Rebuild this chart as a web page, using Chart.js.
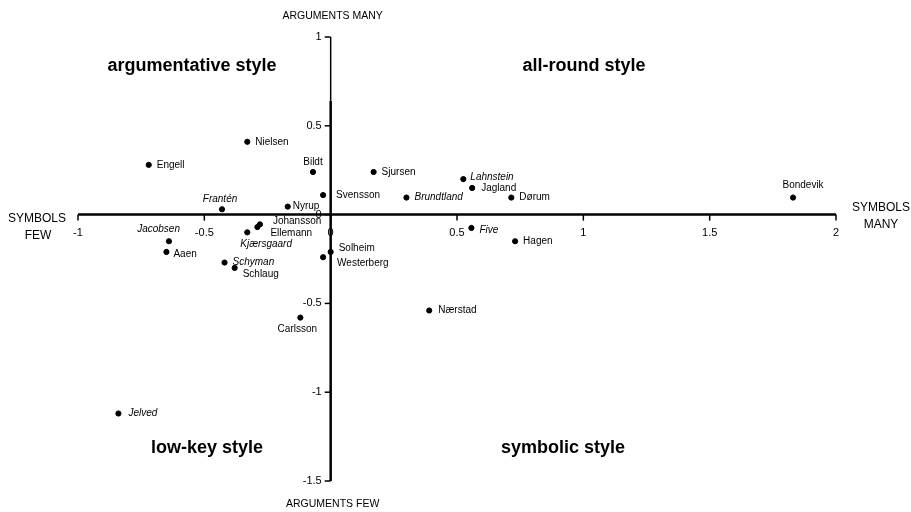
<!DOCTYPE html>
<html>
<head>
<meta charset="utf-8">
<script src="https://cdn.jsdelivr.net/npm/chart.js@4.4.1/dist/chart.umd.min.js"></script>
<style>
  html, body { margin: 0; padding: 0; background: #fff; }
  #wrap { width: 911px; height: 512px; }
</style>
</head>
<body>
<div id="wrap"><canvas id="styleChart" width="911" height="512"></canvas></div>
<script>
/* ── Data ─────────────────────────────────────────────────────────────── */
const names = ['Engell', 'Nielsen', 'Bildt', 'Svensson', 'Nyrup', 'Frantén',
  'Johansson', 'Ellemann', 'Kjærsgaard', 'Jacobsen', 'Aaen', 'Schyman',
  'Schlaug', 'Solheim', 'Westerberg', 'Carlsson', 'Sjursen', 'Brundtland',
  'Lahnstein', 'Jagland', 'Dørum', 'Five', 'Hagen', 'Nærstad', 'Bondevik', 'Jelved'];
const symbols = [-0.72, -0.33, -0.07, -0.03, -0.17, -0.43,
  -0.28, -0.29, -0.33, -0.64, -0.65, -0.42,
  -0.38, 0.0, -0.03, -0.12, 0.17, 0.30,
  0.525, 0.56, 0.715, 0.557, 0.73, 0.39, 1.83, -0.84];
const argumentsVal = [0.28, 0.41, 0.24, 0.11, 0.045, 0.03,
  -0.055, -0.07, -0.10, -0.15, -0.21, -0.27,
  -0.30, -0.21, -0.24, -0.58, 0.24, 0.096,
  0.20, 0.15, 0.096, -0.075, -0.15, -0.54, 0.096, -1.12];
const xTicks = [-1, -0.5, 0, 0.5, 1, 1.5, 2];
const yTicks = [1, 0.5, 0, -0.5, -1, -1.5];
const quadrants = ['argumentative style', 'all-round style', 'low-key style', 'symbolic style'];

/* ── Label placement (dx, dy, align) ──────────────────────────────────── */
const LABEL_POS = {
  'Engell': [8, 0, 'left'], 'Nielsen': [8, 0, 'left'], 'Bildt': [0, -10, 'center'],
  'Svensson': [13, 0, 'left'], 'Nyrup': [5, 0, 'left'], 'Frantén': [-2, -10, 'center'],
  'Johansson': [13, -3, 'left'], 'Ellemann': [13, 6, 'left'], 'Kjærsgaard': [-7, 12, 'left'],
  'Jacobsen': [11, -12, 'right'], 'Aaen': [7, 2, 'left'], 'Schyman': [8, 0, 'left'],
  'Schlaug': [8, 6, 'left'], 'Solheim': [8, -4, 'left'], 'Westerberg': [14, 6, 'left'],
  'Carlsson': [-3, 12, 'center'], 'Sjursen': [8, 0, 'left'], 'Brundtland': [8, 0, 'left'],
  'Lahnstein': [7, -2, 'left'], 'Jagland': [9, 0, 'left'], 'Dørum': [8, 0, 'left'],
  'Five': [8, 2, 'left'], 'Hagen': [8, 0, 'left'], 'Nærstad': [9, 0, 'left'],
  'Bondevik': [10, -12, 'center'], 'Jelved': [10, 0, 'left'],
};
const ITALIC = new Set(['Frantén', 'Kjærsgaard', 'Jacobsen', 'Schyman', 'Brundtland',
  'Lahnstein', 'Five', 'Jelved']);
const FONT = "'Liberation Sans', Arial, sans-serif";
const THIN_TOP = 0.64;   // y-axis is drawn thinner above this value

/* ── Axes through origin, labels, titles ──────────────────────────────── */
const crossAxes = {
  id: 'crossAxes',
  afterDatasetsDraw(chart) {
    const { ctx, scales: { x, y } } = chart;
    const x0 = x.getPixelForValue(0), y0 = y.getPixelForValue(0);
    ctx.save();
    ctx.strokeStyle = '#000';
    ctx.fillStyle = '#000';

    // x axis
    ctx.lineWidth = 2.5;
    ctx.beginPath();
    ctx.moveTo(x.getPixelForValue(xTicks[0]), y0);
    ctx.lineTo(x.getPixelForValue(xTicks[xTicks.length - 1]), y0);
    ctx.stroke();
    ctx.lineWidth = 1.5;
    xTicks.forEach(v => {
      const px = x.getPixelForValue(v);
      ctx.beginPath(); ctx.moveTo(px, y0); ctx.lineTo(px, y0 + 6); ctx.stroke();
    });

    // y axis
    ctx.lineWidth = 1.5;
    ctx.beginPath();
    ctx.moveTo(x0, y.getPixelForValue(yTicks[0]));
    ctx.lineTo(x0, y.getPixelForValue(THIN_TOP));
    ctx.stroke();
    ctx.lineWidth = 2.5;
    ctx.beginPath();
    ctx.moveTo(x0, y.getPixelForValue(THIN_TOP));
    ctx.lineTo(x0, y.getPixelForValue(yTicks[yTicks.length - 1]));
    ctx.stroke();
    ctx.lineWidth = 1.5;
    yTicks.forEach(v => {
      const py = y.getPixelForValue(v);
      ctx.beginPath(); ctx.moveTo(x0, py); ctx.lineTo(x0 - 6, py); ctx.stroke();
    });

    // tick labels
    ctx.font = '11px ' + FONT;
    ctx.textBaseline = 'middle';
    ctx.textAlign = 'center';
    xTicks.forEach(v => ctx.fillText(String(v), x.getPixelForValue(v), y0 + 18));
    ctx.textAlign = 'right';
    yTicks.forEach(v => ctx.fillText(String(v), x0 - 9, y.getPixelForValue(v)));

    // point labels
    names.forEach((n, i) => {
      const [dx, dy, align] = LABEL_POS[n];
      ctx.font = (ITALIC.has(n) ? 'italic ' : '') + '10px ' + FONT;
      ctx.textAlign = align;
      ctx.fillText(n, x.getPixelForValue(symbols[i]) + dx, y.getPixelForValue(argumentsVal[i]) + dy);
    });

    // axis titles
    ctx.textAlign = 'center';
    ctx.font = '10.5px ' + FONT;
    ctx.fillText('ARGUMENTS MANY', x0 + 2, 16);
    ctx.fillText('ARGUMENTS FEW', x0 + 2, 504);
    ctx.font = '12px ' + FONT;
    ctx.fillText('SYMBOLS', 37, y0 + 4);
    ctx.fillText('FEW', 38, y0 + 21);
    ctx.fillText('SYMBOLS', 881, y0 - 7);
    ctx.fillText('MANY', 881, y0 + 10);

    // quadrant titles
    ctx.font = 'bold 18px ' + FONT;
    ctx.fillText(quadrants[0], 192, 66);
    ctx.fillText(quadrants[1], 584, 66);
    ctx.fillText(quadrants[2], 207, 448);
    ctx.fillText(quadrants[3], 563, 448);
    ctx.restore();
  }
};

new Chart(document.getElementById('styleChart').getContext('2d'), {
  type: 'scatter',
  data: {
    datasets: [{
      data: names.map((n, i) => ({ x: symbols[i], y: argumentsVal[i] })),
      backgroundColor: '#000',
      borderColor: '#000',
      pointRadius: 2.6,
      pointHoverRadius: 2.6,
    }]
  },
  options: {
    responsive: false,
    animation: false,
    layout: { padding: { left: 78, right: 75, top: 37, bottom: 31 } },
    plugins: { legend: { display: false }, tooltip: { enabled: false } },
    scales: {
      x: { type: 'linear', min: -1, max: 2, display: false },
      y: { type: 'linear', min: -1.5, max: 1, display: false }
    }
  },
  plugins: [crossAxes]
});
</script>
</body>
</html>
